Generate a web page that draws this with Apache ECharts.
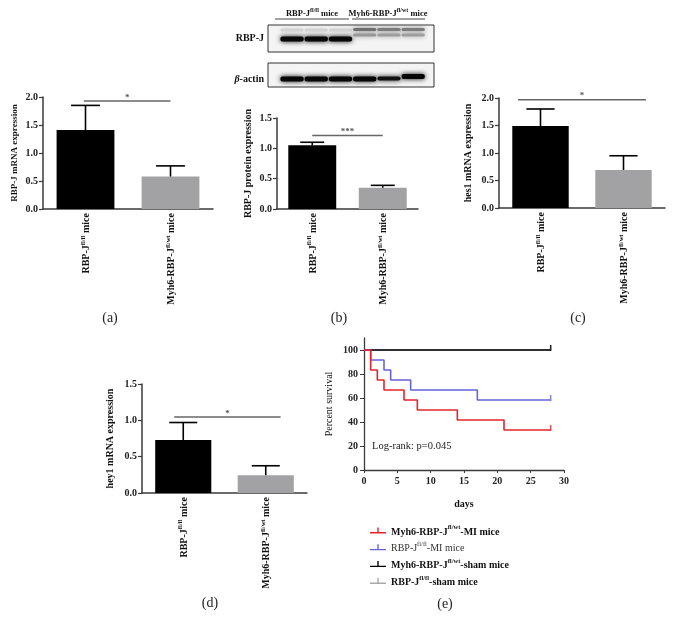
<!DOCTYPE html>
<html><head><meta charset="utf-8">
<script src="https://cdn.jsdelivr.net/npm/echarts@6/dist/echarts.min.js"></script>
<style>html,body{margin:0;padding:0;background:#fff}#c{width:674px;height:630px}</style>
</head><body><div id="c"></div>
<script>
// ---------------- data ----------------
const barCategories = ['RBP-J fl/fl mice', 'Myh6-RBP-J fl/wt mice'];
const barColors = ['#000000', '#a2a2a4'];

const rbpjMrnaMean = [1.41, 0.58];
const rbpjMrnaErr  = [1.85, 0.77];
const rbpjProtMean = [1.05, 0.35];
const rbpjProtErr  = [1.10, 0.39];
const hes1Mean     = [1.49, 0.69];
const hes1Err      = [1.80, 0.95];
const hey1Mean     = [0.73, 0.245];
const hey1Err      = [0.97, 0.375];

// significance: [category, y value, start offset, end offset (in category bands), stars]
const sigA = [[0, 1.93, -0.02, 1.0, '*']];
const sigB = [[0, 1.21, 0.0, 1.0, '***']];
const sigC = [[0, 1.97, -0.27, 1.27, '*']];
const sigD = [[0, 1.045, -0.11, 1.18, '*']];

// Kaplan-Meier survival (day, percent)
const survMyh6MI   = [[0,100],[1,83.3],[2,75],[3,66.7],[6,58.3],[8,50],[14,41.7],[21,33.3],[28,33.3]];
const survRbpjMI   = [[0,100],[1,91.7],[3,83.3],[4,75],[7,66.7],[17,58.3],[28,58.3]];
const survMyh6Sham = [[0,100],[28,100]];
const survRbpjSham = [[0,100],[28,100]];
const censorMyh6MI   = [[28,33.3]];
const censorRbpjMI   = [[28,58.3]];
const censorMyh6Sham = [[28,100]];
const censorRbpjSham = [[28,100]];
const survTicksY = [0,20,40,60,80,100];

// Western blot bands: [lane, band centre (px from box top), intensity 0..1, thickness]
const blotRbpj = [
  [0,5,0.14,4],[1,5,0.14,4],[2,5,0.14,4],
  [0,14,0.97,6],[1,14,0.97,6],[2,14,0.97,6],
  [3,4.5,0.55,4],[4,4.5,0.5,4],[5,4.5,0.5,4],
  [3,10,0.38,4],[4,10,0.36,4],[5,10,0.36,4]
];
const blotActin = [
  [0,16,0.97,6],[1,16,0.97,6],[2,16,0.97,6],[3,16,0.97,6],[4,15.5,0.93,5],[5,13.5,0.97,6]
];

// ---------------- helpers ----------------
const SERIF = '"Liberation Serif","DejaVu Serif",serif';
const AX = '#3a3a3a';

function catLabel(name) {
  const m = name.match(/^(.*RBP-J) (fl\/\w+) (mice)$/);
  return '{n|' + m[1] + '}{s|' + m[2] + '}{n| ' + m[3] + '}';
}
const catRich = {
  n: {fontFamily: SERIF, fontWeight: 'bold', fontSize: 10, color: '#111', lineHeight: 12, verticalAlign: 'bottom'},
  s: {fontFamily: SERIF, fontWeight: 'bold', fontSize: 6.5, color: '#111', lineHeight: 9, verticalAlign: 'top'}
};

function barX(gi) {
  return {
    type: 'category', gridIndex: gi, data: barCategories,
    axisLine: {lineStyle: {color: AX, width: 1.5}},
    axisTick: {alignWithLabel: true, length: 3, lineStyle: {color: AX, width: 1.2}},
    axisLabel: {rotate: 90, margin: 4, formatter: catLabel, rich: catRich}
  };
}
function barY(gi, max, name, nameSize, gap) {
  return {
    type: 'value', gridIndex: gi, min: 0, max: max, interval: 0.5,
    name: name, nameLocation: 'middle', nameRotate: 90, nameGap: gap,
    nameTextStyle: {fontFamily: SERIF, fontWeight: 'bold', fontSize: nameSize, color: '#111'},
    axisLine: {show: true, lineStyle: {color: AX, width: 1.5}},
    axisTick: {show: true, length: 4, lineStyle: {color: AX, width: 1.2}},
    splitLine: {show: false},
    axisLabel: {fontFamily: SERIF, fontWeight: 'bold', fontSize: 10, color: '#222', margin: 5,
      formatter: v => v.toFixed(1)}
  };
}
function barSeries(gi, means) {
  return {
    type: 'bar', xAxisIndex: gi, yAxisIndex: gi, barWidth: '68%', silent: true,
    data: means.map((v, i) => ({value: v, itemStyle: {color: barColors[i]}}))
  };
}
function errSeries(gi, means, errs) {
  return {
    type: 'custom', xAxisIndex: gi, yAxisIndex: gi, silent: true, z: 3,
    data: means.map((m, i) => [i, m, errs[i]]),
    encode: {x: 0, y: [1, 2]},
    renderItem: function (params, api) {
      const p0 = api.coord([api.value(0), api.value(1)]);
      const p1 = api.coord([api.value(0), api.value(2)]);
      const hw = api.size([1, 0])[0] * 0.17;
      const st = {stroke: '#000', lineWidth: 1.6};
      return {type: 'group', children: [
        {type: 'line', shape: {x1: p0[0], y1: p0[1], x2: p1[0], y2: p1[1]}, style: st},
        {type: 'line', shape: {x1: p1[0] - hw, y1: p1[1], x2: p1[0] + hw, y2: p1[1]}, style: st}
      ]};
    }
  };
}
function sigSeries(gi, sig) {
  return {
    type: 'custom', xAxisIndex: gi, yAxisIndex: gi, silent: true, z: 3,
    data: sig, encode: {x: 0, y: 1},
    renderItem: function (params, api) {
      const c = api.coord([api.value(0), api.value(1)]);
      const band = api.size([1, 0])[0];
      const x1 = c[0] + api.value(2) * band, x2 = c[0] + api.value(3) * band;
      const stars = sig[params.dataIndex][4];
      return {type: 'group', children: [
        {type: 'line', shape: {x1: x1, y1: c[1], x2: x2, y2: c[1]}, style: {stroke: '#666', lineWidth: 1.5}},
        {type: 'text', x: (x1 + x2) / 2, y: c[1] + 1,
          style: {text: stars, fill: '#555', font: 'bold 9px ' + SERIF, align: 'center', verticalAlign: 'bottom'}}
      ]};
    }
  };
}
function blotSeries(gi, bands) {
  return {
    type: 'custom', xAxisIndex: gi, yAxisIndex: gi, silent: true,
    data: bands, encode: {x: 0, y: 1},
    renderItem: function (params, api) {
      const c = api.coord([api.value(0), api.value(1)]);
      const w = api.size([1, 0])[0];
      const t = api.value(3);
      const g = Math.round(245 * (1 - api.value(2)));
      const col = 'rgb(' + g + ',' + g + ',' + g + ')';
      return {type: 'rect',
        shape: {x: c[0] - w / 2 + 1.5, y: c[1] - t / 2 + 0.5, width: w - 1, height: t - 1, r: 2},
        style: {fill: col, shadowBlur: 5, shadowColor: col}};
    }
  };
}
function hiddenAx(gi, min, max, inverse) {
  return {type: 'value', gridIndex: gi, min: min, max: max, inverse: !!inverse, show: false,
    splitLine: {show: false}};
}

const legendNames = ['Myh6-RBP-J fl/wt-MI mice', 'RBP-J fl/fl-MI mice', 'Myh6-RBP-J fl/wt-sham mice', 'RBP-J fl/fl-sham mice'];
const legendText = {
  'Myh6-RBP-J fl/wt-MI mice': '{b|Myh6-RBP-J}{bs|fl/wt}{b|-MI mice}',
  'RBP-J fl/fl-MI mice': '{r|RBP-J}{rs|fl/fl}{r|-MI mice}',
  'Myh6-RBP-J fl/wt-sham mice': '{b|Myh6-RBP-J}{bs|fl/wt}{b|-sham mice}',
  'RBP-J fl/fl-sham mice': '{b|RBP-J}{bs|fl/fl}{b|-sham mice}'
};
const survColors = ['#e3242b', '#6464dc', '#000000', '#a8a8a8'];
const legendIcon = 'path://M0,4.6 L16,4.6 L16,6 L0,6 Z M7.3,0 L8.7,0 L8.7,6 L7.3,6 Z';

function kmLine(name, data, color, z) {
  return {type: 'line', name: name, xAxisIndex: 4, yAxisIndex: 4, step: 'end', data: data,
    symbol: 'none', color: color, lineStyle: {color: color, width: 1.6}, silent: true, z: z};
}
function censor(data, color, z) {
  return {type: 'scatter', xAxisIndex: 4, yAxisIndex: 4, data: data, symbol: 'rect',
    symbolSize: [1.5, 6], symbolOffset: [0, -2], itemStyle: {color: color}, silent: true, z: z};
}

const chart = echarts.init(document.getElementById('c'), null, {renderer: 'canvas'});
const supRich = {
  n: {fontFamily: SERIF, fontWeight: 'bold', fontSize: 8.5, fill: '#111', lineHeight: 11, verticalAlign: 'bottom'},
  s: {fontFamily: SERIF, fontWeight: 'bold', fontSize: 6, fill: '#111', lineHeight: 8, verticalAlign: 'top'}
};

chart.setOption({
  animation: false,
  backgroundColor: '#ffffff',
  grid: [
    {left: 43, top: 97, width: 170, height: 112},
    {left: 277, top: 118, width: 141, height: 91},
    {left: 499, top: 98, width: 166, height: 110},
    {left: 142, top: 384, width: 165, height: 109},
    {left: 364, top: 338, width: 200, height: 132},
    {left: 268, top: 25, width: 166, height: 27, show: true, borderColor: '#333', borderWidth: 1, backgroundColor: '#f4f4f4'},
    {left: 268, top: 63, width: 166, height: 24, show: true, borderColor: '#333', borderWidth: 1, backgroundColor: '#f4f4f4'}
  ],
  xAxis: [
    barX(0), barX(1), barX(2), barX(3),
    {type: 'value', gridIndex: 4, min: 0, max: 30, interval: 5,
      name: 'days', nameLocation: 'middle', nameGap: 29,
      nameTextStyle: {fontFamily: SERIF, fontWeight: 'bold', fontSize: 10, color: '#111'},
      axisLine: {lineStyle: {color: AX, width: 1.3}},
      axisTick: {length: 3, lineStyle: {color: AX}},
      splitLine: {show: false},
      axisLabel: {fontFamily: SERIF, fontWeight: 'bold', fontSize: 10, color: '#222', margin: 6}},
    hiddenAx(5, -0.95, 5.9), hiddenAx(6, -0.95, 5.9)
  ],
  yAxis: [
    barY(0, 2, 'RBP-J mRNA expression', 9, 24),
    barY(1, 1.5, 'RBP-J protein expression', 10, 24),
    barY(2, 2, 'hes1 mRNA expression', 10, 26),
    barY(3, 1.5, 'hey1 mRNA expression', 10, 27),
    {type: 'value', gridIndex: 4, min: 0, max: 110,
      name: 'Percent survival', nameLocation: 'middle', nameRotate: 90, nameGap: 30,
      nameTextStyle: {fontFamily: SERIF, fontSize: 10, color: '#111'},
      axisLine: {show: true, lineStyle: {color: AX, width: 1.3}},
      axisTick: {show: true, length: 4, customValues: survTicksY, lineStyle: {color: AX}},
      splitLine: {show: false},
      axisLabel: {customValues: survTicksY, fontFamily: SERIF, fontWeight: 'bold', fontSize: 10, color: '#222', margin: 6}},
    hiddenAx(5, 0, 27, true), hiddenAx(6, 0, 24, true)
  ],
  legend: {
    orient: 'vertical', left: 365, top: 519, itemWidth: 16, itemHeight: 7, itemGap: 3.8,
    icon: legendIcon, data: legendNames, selectedMode: false,
    formatter: n => legendText[n],
    textStyle: {color: '#111', lineHeight: 14, rich: {
      b: {fontFamily: SERIF, fontWeight: 'bold', fontSize: 10, color: '#111', lineHeight: 13, verticalAlign: 'bottom'},
      bs: {fontFamily: SERIF, fontWeight: 'bold', fontSize: 6.5, color: '#111', lineHeight: 10, verticalAlign: 'top'},
      r: {fontFamily: SERIF, fontSize: 10, color: '#333', lineHeight: 13, verticalAlign: 'bottom'},
      rs: {fontFamily: SERIF, fontSize: 6.5, color: '#333', lineHeight: 10, verticalAlign: 'top'}
    }}
  },
  series: [
    barSeries(0, rbpjMrnaMean), errSeries(0, rbpjMrnaMean, rbpjMrnaErr), sigSeries(0, sigA),
    barSeries(1, rbpjProtMean), errSeries(1, rbpjProtMean, rbpjProtErr), sigSeries(1, sigB),
    barSeries(2, hes1Mean), errSeries(2, hes1Mean, hes1Err), sigSeries(2, sigC),
    barSeries(3, hey1Mean), errSeries(3, hey1Mean, hey1Err), sigSeries(3, sigD),
    kmLine(legendNames[3], survRbpjSham, survColors[3], 2),
    kmLine(legendNames[2], survMyh6Sham, survColors[2], 3),
    kmLine(legendNames[1], survRbpjMI, survColors[1], 4),
    kmLine(legendNames[0], survMyh6MI, survColors[0], 5),
    censor(censorRbpjSham, survColors[3], 2),
    censor(censorMyh6Sham, survColors[2], 3),
    censor(censorRbpjMI, survColors[1], 4),
    censor(censorMyh6MI, survColors[0], 5),
    blotSeries(5, blotRbpj),
    blotSeries(6, blotActin)
  ],
  graphic: [
    {type: 'text', x: 312, y: 13, style: {text: '{n|RBP-J}{s|fl/fl}{n| mice}', rich: supRich, align: 'center', verticalAlign: 'middle'}},
    {type: 'text', x: 388, y: 13, style: {text: '{n|Myh6-RBP-J}{s|fl/wt}{n| mice}', rich: supRich, align: 'center', verticalAlign: 'middle'}},
    {type: 'line', shape: {x1: 275, y1: 19, x2: 349, y2: 19}, style: {stroke: '#444', lineWidth: 1.2}},
    {type: 'line', shape: {x1: 352, y1: 19, x2: 425, y2: 19}, style: {stroke: '#444', lineWidth: 1.2}},
    {type: 'text', x: 264, y: 38, style: {text: 'RBP-J', font: 'bold 10px ' + SERIF, fill: '#111', align: 'right', verticalAlign: 'middle'}},
    {type: 'text', x: 264, y: 79, style: {text: '{i|β}{n|-actin}', align: 'right', verticalAlign: 'middle',
      rich: {i: {fontFamily: SERIF, fontWeight: 'bold', fontStyle: 'italic', fontSize: 10, fill: '#111'},
             n: {fontFamily: SERIF, fontWeight: 'bold', fontSize: 10, fill: '#111'}}}},
    {type: 'text', x: 372, y: 446, style: {text: 'Log-rank: p=0.045', font: '10.5px ' + SERIF, fill: '#222', verticalAlign: 'middle'}},
    {type: 'text', x: 110, y: 318, style: {text: '(a)', font: '14px ' + SERIF, fill: '#222', align: 'center', verticalAlign: 'middle'}},
    {type: 'text', x: 339, y: 318, style: {text: '(b)', font: '14px ' + SERIF, fill: '#222', align: 'center', verticalAlign: 'middle'}},
    {type: 'text', x: 578, y: 318, style: {text: '(c)', font: '14px ' + SERIF, fill: '#222', align: 'center', verticalAlign: 'middle'}},
    {type: 'text', x: 210, y: 603, style: {text: '(d)', font: '14px ' + SERIF, fill: '#222', align: 'center', verticalAlign: 'middle'}},
    {type: 'text', x: 445, y: 604, style: {text: '(e)', font: '14px ' + SERIF, fill: '#222', align: 'center', verticalAlign: 'middle'}}
  ]
});
</script>
</body></html>
